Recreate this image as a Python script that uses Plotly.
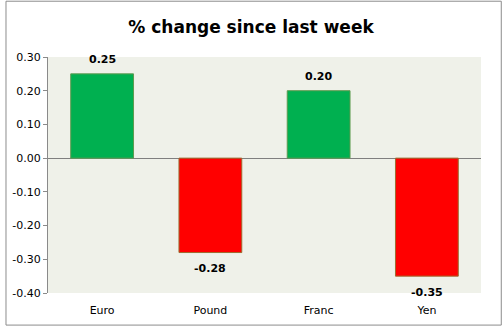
import plotly.graph_objects as go

categories = ["Euro", "Pound", "Franc", "Yen"]
values = [0.25, -0.28, 0.20, -0.35]
tick_vals = [0.30, 0.20, 0.10, 0.00, -0.10, -0.20, -0.30, -0.40]
tick_text = ["0.30", "0.20", "0.10", "0.00", "-0.10", "-0.20", "-0.30", "-0.40"]

fill_colors = ["#00B050" if v >= 0 else "#FF0000" for v in values]
line_colors = ["#5E9A50" if v >= 0 else "#9C6B2F" for v in values]
labels = [f"{v:.2f}" for v in values]

W, H = 502, 329
ml, mr, mt, mb = 43, 21, 57, 33
pw, ph = W - ml - mr, H - mt - mb

fig = go.Figure(go.Bar(
    x=categories, y=values,
    marker=dict(color=fill_colors, line=dict(color=line_colors, width=1)),
    width=0.58,
    cliponaxis=False,
))

annotations = [
    dict(x=c, y=v, text=f"<b>{t}</b>", showarrow=False, xref="x", yref="y",
         yanchor="middle", yshift=14 if v >= 0 else -16,
         font=dict(family="DejaVu Sans", size=11, color="black"))
    for c, v, t in zip(categories, values, labels)
]

fig.update_layout(
    width=W, height=H,
    margin=dict(l=ml, r=mr, t=mt, b=mb),
    paper_bgcolor="white",
    plot_bgcolor="#EFF1E9",
    showlegend=False,
    title=dict(text="<b>% change since last week</b>", x=0.5, xanchor="center",
               y=1 - 27 / H, yanchor="middle",
               font=dict(family="DejaVu Sans", size=17, color="black")),
    font=dict(family="DejaVu Sans", size=11, color="black"),
    xaxis=dict(showgrid=False, showline=False, ticks="", tickfont=dict(size=11),
               ticklabelstandoff=9),
    yaxis=dict(range=[-0.40, 0.30], tickvals=tick_vals, ticktext=tick_text,
               showgrid=False, zeroline=True, zerolinecolor="#7F7F7F", zerolinewidth=1,
               showline=True, linecolor="#8A8A8A", linewidth=1,
               ticks="outside", ticklen=4, tickcolor="#8A8A8A",
               tickfont=dict(size=11)),
    annotations=annotations,
    shapes=[dict(type="rect", xref="paper", yref="paper",
                 x0=(0.5 - ml) / pw, x1=(W - 0.5 - ml) / pw,
                 y0=-(mb - 0.5) / ph,
                 y1=1 + (mt - 0.5) / ph,
                 line=dict(color="#8C8C8C", width=1), fillcolor="rgba(0,0,0,0)",
                 layer="above")],
)

fig.write_html("out.html")
